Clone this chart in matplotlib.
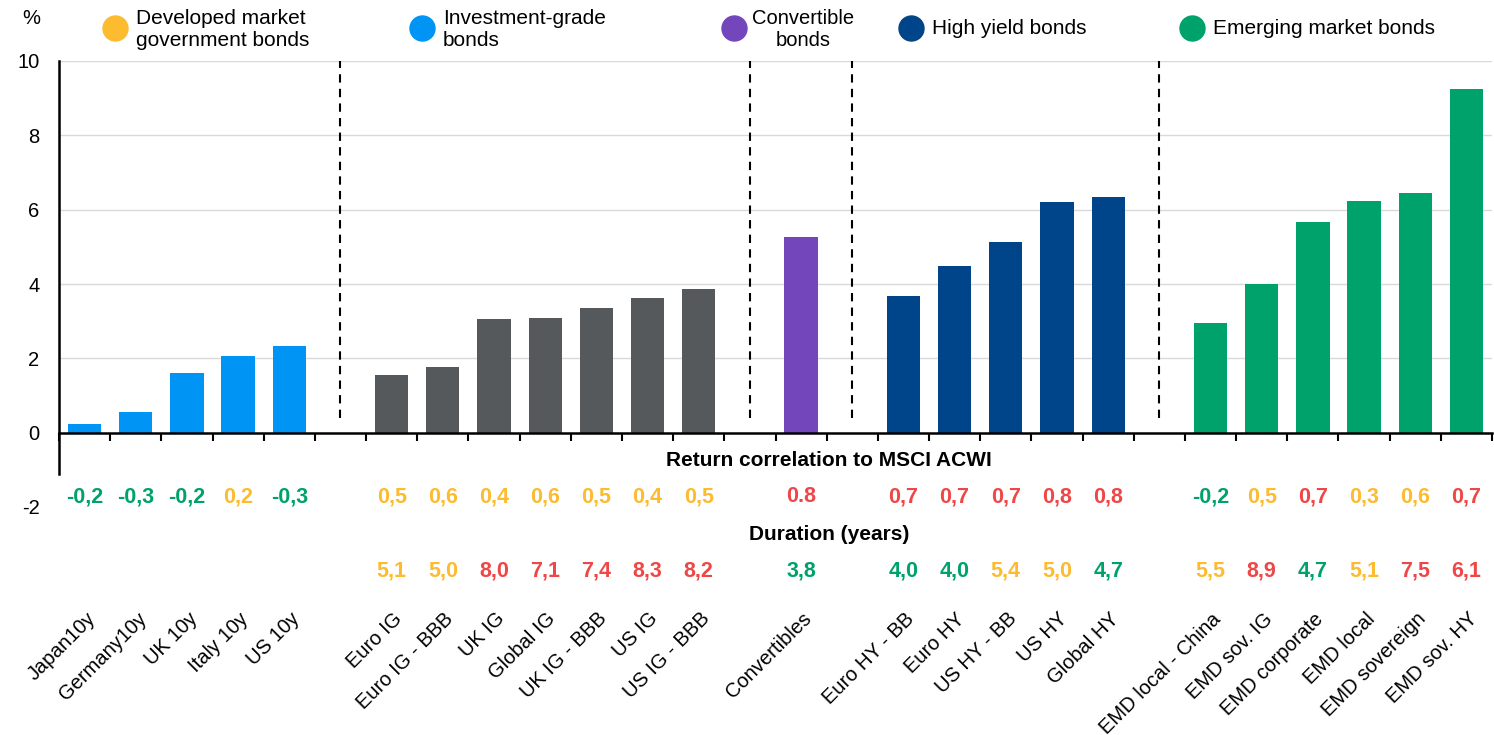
import numpy as np
import matplotlib
matplotlib.use("Agg")
import matplotlib.pyplot as plt

plt.rcParams['font.family'] = ['Liberation Sans', 'DejaVu Sans']

# data
gov_names = ['Japan10y', 'Germany10y', 'UK 10y', 'Italy 10y', 'US 10y']
gov_vals = [0.22, 0.56, 1.61, 2.05, 2.34]
gov_corr = ['-0,2', '-0,3', '-0,2', '0,2', '-0,3']
gov_dur = ['', '', '', '', '']

ig_names = ['Euro IG', 'Euro IG - BBB', 'UK IG', 'Global IG', 'UK IG - BBB', 'US IG', 'US IG - BBB']
ig_vals = [1.56, 1.77, 3.06, 3.09, 3.36, 3.62, 3.87]
ig_corr = ['0,5', '0,6', '0,4', '0,6', '0,5', '0,4', '0,5']
ig_dur = ['5,1', '5,0', '8,0', '7,1', '7,4', '8,3', '8,2']

cv_names = ['Convertibles']
cv_vals = [5.27]
cv_corr = ['0.8']
cv_dur = ['3,8']

hy_names = ['Euro HY - BB', 'Euro HY', 'US HY - BB', 'US HY', 'Global HY']
hy_vals = [3.68, 4.49, 5.13, 6.21, 6.34]
hy_corr = ['0,7', '0,7', '0,7', '0,8', '0,8']
hy_dur = ['4,0', '4,0', '5,4', '5,0', '4,7']

em_names = ['EMD local - China', 'EMD sov. IG', 'EMD corporate', 'EMD local', 'EMD sovereign', 'EMD sov. HY']
em_vals = [2.96, 4.01, 5.67, 6.24, 6.45, 9.25]
em_corr = ['-0,2', '0,5', '0,7', '0,3', '0,6', '0,7']
em_dur = ['5,5', '8,9', '4,7', '5,1', '7,5', '6,1']

legend_labels = ['Developed market\ngovernment bonds', 'Investment-grade\nbonds',
                 'Convertible\nbonds', 'High yield bonds', 'Emerging market bonds']

YELLOW = '#FDBB30'
BLUE = '#0094F5'
GREY = '#56595C'
PURPLE = '#7346BB'
NAVY = '#00448A'
GREEN = '#00A26B'
RED = '#EF4747'

groups = [
    (gov_names, gov_vals, gov_corr, gov_dur, BLUE),
    (ig_names, ig_vals, ig_corr, ig_dur, GREY),
    (cv_names, cv_vals, cv_corr, cv_dur, PURPLE),
    (hy_names, hy_vals, hy_corr, hy_dur, NAVY),
    (em_names, em_vals, em_corr, em_dur, GREEN),
]


def corr_color(s):
    v = float(s.replace(',', '.'))
    if v < 0:
        return GREEN
    if v >= 0.7:
        return RED
    return YELLOW


def dur_color(s):
    v = float(s.replace(',', '.'))
    if v < 5:
        return GREEN
    if v > 6:
        return RED
    return YELLOW


fig = plt.figure(figsize=(14.94, 7.35), dpi=100)
ax = fig.add_axes([59 / 1494, 1 - 507 / 735, (1492 - 59) / 1494, (507 - 61) / 735])

pos = 0
gaps = []
for gi, (names, vals, corr, dur, col) in enumerate(groups):
    xs = np.arange(pos, pos + len(names))
    ax.bar(xs, vals, width=0.65, color=col, zorder=3)
    for x, n, c, d in zip(xs, names, corr, dur):
        ax.text(x + 0.15, -4.93, n, rotation=45, ha='right', va='center',
                rotation_mode='anchor', fontsize=14.5)
        ax.text(x, -1.72, c, ha='center', va='center', fontsize=15.5,
                fontweight='bold', color=corr_color(c))
        if d:
            ax.text(x, -3.71, d, ha='center', va='center', fontsize=15.5,
                    fontweight='bold', color=dur_color(d))
    pos += len(names)
    if gi < len(groups) - 1:
        gaps.append(pos)
        pos += 1

for g in gaps:
    ax.plot([g, g], [0.4, 10], color='black', lw=1.5, ls=(0, (4, 3)), zorder=2)

ax.set_xlim(-0.5, pos - 0.5)
ax.set_ylim(-2, 10)
ax.set_yticks([-2, 0, 2, 4, 6, 8, 10])
ax.set_yticklabels(['-2', '0', '2', '4', '6', '8', '10'], fontsize=14.5)
ax.tick_params(axis='y', length=0, pad=14)
ax.set_xticks(np.arange(-0.5, pos, 1))
ax.set_xticklabels([])
ax.tick_params(axis='x', direction='out', length=6, width=1.5, color='black')
for yv in [2, 4, 6, 8, 10]:
    ax.axhline(yv, color='#D9D9D9', lw=1, zorder=1)

for s in ['top', 'right']:
    ax.spines[s].set_visible(False)
ax.spines['bottom'].set_position(('data', 0))
ax.spines['bottom'].set_linewidth(1.8)
ax.spines['bottom'].set_zorder(4)
ax.spines['left'].set_bounds(-1.1, 10)
ax.spines['left'].set_linewidth(1.8)

ax.text(14.55, -0.75, 'Return correlation to MSCI ACWI', ha='center', va='center',
        fontsize=15, fontweight='bold')
ax.text(14.55, -2.74, 'Duration (years)', ha='center', va='center',
        fontsize=15, fontweight='bold')

fig.text(40 / 1494, 1 - 18 / 735, '%', ha='right', va='center', fontsize=14.5)

# legend
leg_cols = [YELLOW, BLUE, PURPLE, NAVY, GREEN]
leg_x = [115, 422, 734, 911, 1192]
for lx, lc, lt in zip(leg_x, leg_cols, legend_labels):
    fig.lines.append(plt.Line2D([lx / 1494], [1 - 28 / 735], marker='o', markersize=18,
                                color=lc, transform=fig.transFigure))
    if lt.startswith('Convertible'):
        fig.text((lx + 69) / 1494, 1 - 29 / 735, lt, ha='center', va='center',
                 fontsize=14.5, linespacing=1.2)
    else:
        fig.text((lx + 21) / 1494, 1 - 29 / 735, lt, ha='left', va='center',
                 fontsize=15, linespacing=1.2)

fig.savefig('out.png', dpi=100)
